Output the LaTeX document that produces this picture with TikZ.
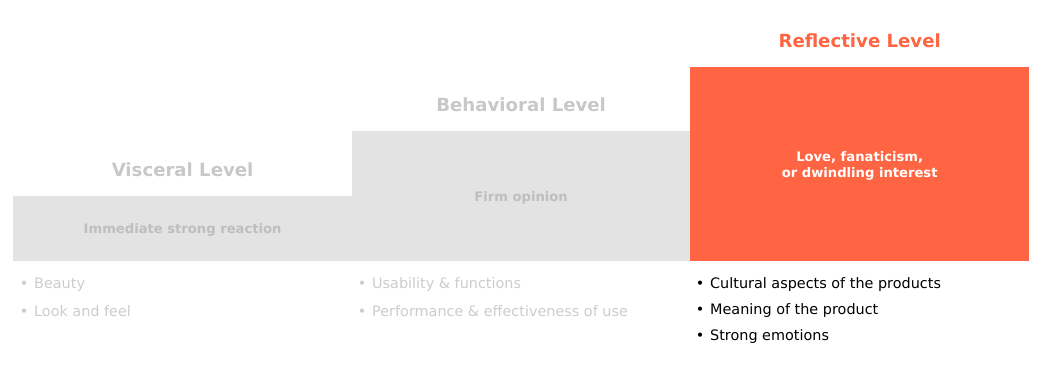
\documentclass[tikz,border=0pt]{standalone}
\usepackage{fontspec}
\setmainfont{DejaVu Sans}
\usetikzlibrary{positioning}

\newcommand{\itembullet}{\makebox[10.8pt][l]{\textbullet}}

\begin{document}
\begin{tikzpicture}[x=0.75pt, y=-0.75pt,
    level_box/.style={rectangle, inner sep=0pt, minimum width=254pt},
    box_text/.style={align=center, yshift=-1.5pt, font=\bfseries\fontsize{9.85}{12}\selectfont},
    title_node/.style={font=\bfseries\fontsize{13.6}{16}\selectfont},
    item_node/.style={font=\fontsize{10.8}{13}\selectfont, anchor=west, inner sep=0pt}
]

  % --- Color Definitions ---
  \definecolor{cbox}{RGB}{227, 227, 227}   % Light Gray
  \definecolor{cboxtext}{RGB}{190, 190, 190}
  \definecolor{ctitle}{RGB}{200, 200, 200}
  \definecolor{citem}{RGB}{204, 204, 204}
  \definecolor{creflect}{RGB}{255, 101, 66} % Orange

  \useasboundingbox (0,0) rectangle (1041,369);

  % --- Level Boxes ---
  \node[level_box, fill=cbox, minimum height=48.75pt, anchor=south west] (visceral) at (13,261) {};
  \node[level_box, fill=cbox, minimum height=97.5pt, anchor=south west] (behavioral) at ([xshift=-0.5pt]visceral.south east) {};
  \node[level_box, fill=creflect, minimum height=145.5pt, anchor=south west] (reflective) at ([xshift=-0.5pt]behavioral.south east) {};

  \node[box_text, text=cboxtext] (visceral_text) at (visceral.center) {Immediate strong reaction};
  \node[box_text, text=cboxtext] (behavioral_text) at (behavioral.center) {Firm opinion};
  \node[box_text, text=white] (reflective_text) at (reflective.center) {Love, fanaticism,\\or dwindling interest};

  % --- Titles ---
  \node[title_node, text=ctitle, above=10.5pt of visceral] (visceral_title) {Visceral Level};
  \node[title_node, text=ctitle, above=10.5pt of behavioral] (behavioral_title) {Behavioral Level};
  \node[title_node, text=creflect, above=10.5pt of reflective] (reflective_title) {Reflective Level};

  % --- Items ---
  \foreach \t [count=\i] in {Beauty, Look and feel} {
    \node[item_node, text=citem] (vis_item\i) at (19.5, 259+26*\i) {\itembullet\t};
  }
  \foreach \t [count=\i] in {Usability \& functions, Performance \& effectiveness of use} {
    \node[item_node, text=citem] (beh_item\i) at (357.5, 259+26*\i) {\itembullet\t};
  }
  \foreach \t [count=\i] in {Cultural aspects of the products, Meaning of the product, Strong emotions} {
    \node[item_node, text=black] (ref_item\i) at (695.5, 259+26*\i) {\itembullet\t};
  }

\end{tikzpicture}
\end{document}
